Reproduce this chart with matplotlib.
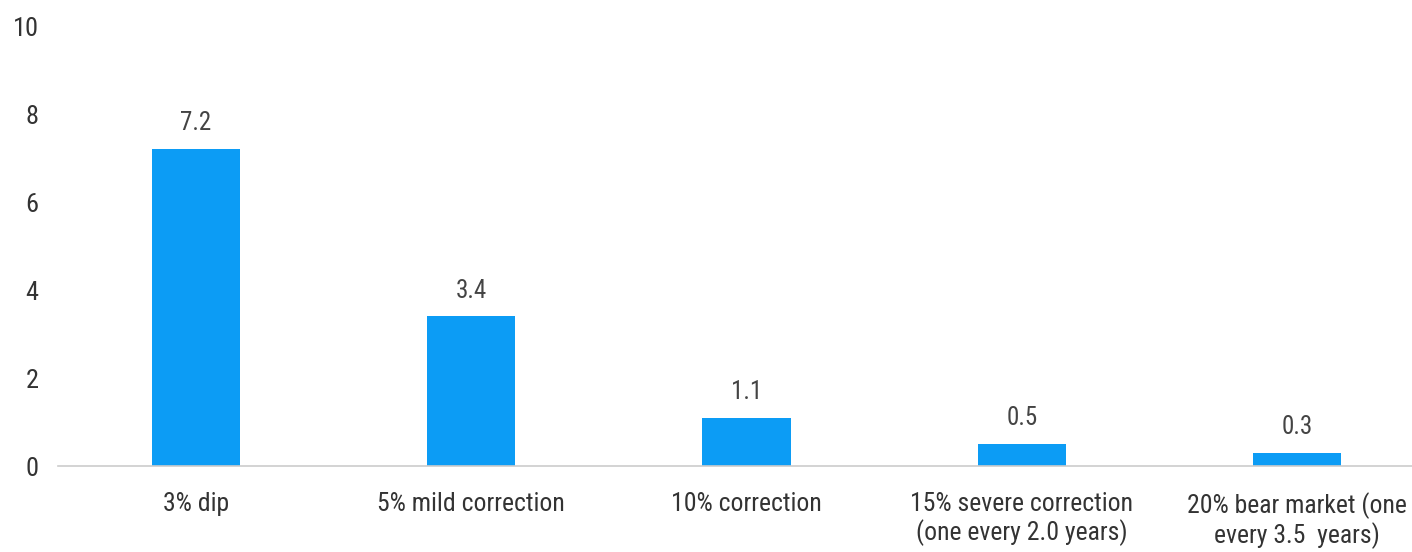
import matplotlib.pyplot as plt
from matplotlib import font_manager

# ==========================
# Data
# ==========================
categories = [
    "3% dip",
    "5% mild correction",
    "10% correction",
    "15% severe correction\n(one every 2.0 years)",
    "20% bear market (one\nevery 3.5  years)",
]
values = [7.2, 3.4, 1.1, 0.5, 0.3]
value_labels = ["7.2", "3.4", "1.1", "0.5", "0.3"]
yticks = [0, 2, 4, 6, 8, 10]

# narrow font if one is installed, otherwise plain Liberation Sans a bit smaller
installed = {f.name for f in font_manager.fontManager.ttflist}
if "Roboto Condensed" in installed:
    plt.rcParams["font.family"] = ["Roboto Condensed", "DejaVu Sans"]
    fs_y, fs_x, fs_val, lsp = 19, 18.5, 18, 1.15
else:
    plt.rcParams["font.family"] = ["Liberation Sans", "DejaVu Sans"]
    fs_y, fs_x, fs_val, lsp = 16, 16, 16, 1.55

# ==========================
# Figure
# ==========================
fig = plt.figure(figsize=(14.12, 5.52), dpi=100)
left = 58 / 1412
right = 1435 / 1412
bottom = 1 - 466 / 552
top = 1 - 26 / 552
ax = fig.add_axes([left, bottom, right - left, top - bottom])

x = list(range(len(categories)))
ax.bar(x, values, width=0.32, color="#0c9cf5", zorder=2)

for xi, v, lab in zip(x, values, value_labels):
    ax.annotate(lab, (xi, v), xytext=(0, 10), textcoords="offset points",
                ha="center", va="bottom", fontsize=fs_val, color="#444444")

ax.set_xlim(-0.5, 4.5)
ax.set_ylim(0, 10)
ax.set_yticks(yticks)
ax.set_yticklabels([str(t) for t in yticks], fontsize=fs_y, color="#333333")
ax.set_xticks(x)
ax.set_xticklabels(categories, fontsize=fs_x, color="#333333", linespacing=lsp)

for s in ["top", "right", "left"]:
    ax.spines[s].set_visible(False)
ax.spines["bottom"].set_color("#cccccc")
ax.spines["bottom"].set_linewidth(1.2)
ax.tick_params(axis="both", length=0)
ax.tick_params(axis="y", pad=14)
ax.tick_params(axis="x", pad=19)

plt.savefig("out.png", dpi=100)
